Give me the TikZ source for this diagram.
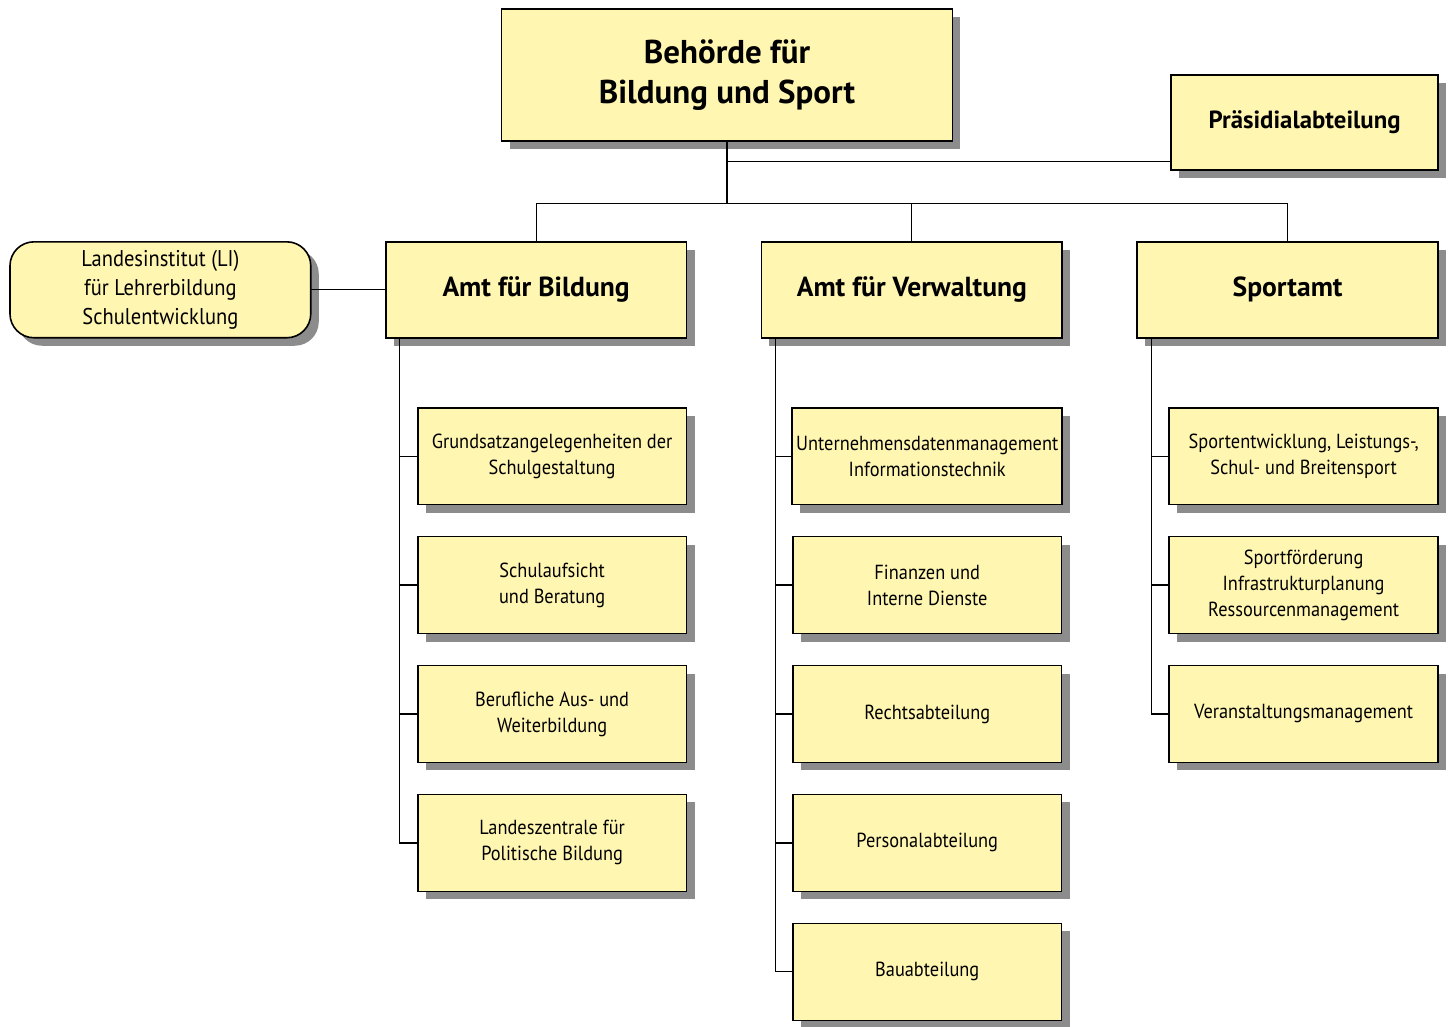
\documentclass[tikz,border=0pt]{standalone}
\usepackage{fontspec}
\setmainfont{PT Sans}[FakeStretch=0.9,BoldFeatures={FakeStretch=1.0}]
\usepackage{tikz}
\usetikzlibrary{positioning, shadows, calc}
\definecolor{boxyellow}{RGB}{255,246,178}
\definecolor{shadowgray}{RGB}{140,140,140}

\begin{document}
\begin{tikzpicture}[-,line width=0.6pt,node distance=16pt,
                    box/.style={rectangle,draw,fill=boxyellow,line width=0.8pt,align=center,inner sep=2pt,outer sep=0pt,
                      drop shadow={shadow xshift=4pt,shadow yshift=-4pt,fill=shadowgray,opacity=1}},
                    top node/.style={box,minimum width=225.5pt,minimum height=66pt,font=\fontsize{16.5}{20}\selectfont\bfseries},
                    amt node/.style={box,minimum width=150.5pt,minimum height=48pt,font=\fontsize{13.8}{16}\selectfont\bfseries},
                    praes node/.style={box,minimum width=133.5pt,minimum height=47.5pt,font=\fontsize{12.4}{14}\selectfont\bfseries},
                    li node/.style={box,rounded corners=12pt,minimum width=150.5pt,minimum height=48pt,font=\fontsize{11.4}{14.3}\selectfont},
                    sub node/.style={box,minimum width=134.5pt,minimum height=48.5pt,font=\fontsize{10.2}{13}\selectfont}]

  \node[amt node] (afb) {Amt für Bildung};
  \node[amt node] (afv) [right=37.5pt of afb] {Amt für Verwaltung};
  \node[amt node] (spa) [right=37.5pt of afv] {Sportamt};
  \node[li node] (li) [left=37.5pt of afb] {Landesinstitut (LI)\\für Lehrerbildung\\Schulentwicklung};
  \node[top node] (bsb) [above=50.5pt of afb.north, xshift=95.5pt] {Behörde für\\Bildung und Sport};
  \node[praes node] (praes) [above=36pt of spa.north east, anchor=south east] {Präsidialabteilung};

  \node[sub node] (b1) [below=35pt of afb.south east, anchor=north east] {Grundsatzangelegenheiten der\\Schulgestaltung};
  \node[sub node] (b2) [below=of b1] {Schulaufsicht\\und Beratung};
  \node[sub node] (b3) [below=of b2] {Berufliche Aus- und\\Weiterbildung};
  \node[sub node] (b4) [below=of b3] {Landeszentrale für\\Politische Bildung};

  \node[sub node] (v1) [below=35pt of afv.south east, anchor=north east] {Unternehmensdatenmanagement\\Informationstechnik};
  \node[sub node] (v2) [below=of v1] {Finanzen und\\Interne Dienste};
  \node[sub node] (v3) [below=of v2] {Rechtsabteilung};
  \node[sub node] (v4) [below=of v3] {Personalabteilung};
  \node[sub node] (v5) [below=of v4] {Bauabteilung};

  \node[sub node] (s1) [below=35pt of spa.south east, anchor=north east] {Sportentwicklung, Leistungs-,\\Schul- und Breitensport};
  \node[sub node] (s2) [below=of s1] {Sportförderung\\Infrastrukturplanung\\Ressourcenmanagement};
  \node[sub node] (s3) [below=of s2] {Veranstaltungsmanagement};

  \coordinate (bus) at ([yshift=19pt]afv.north);
  \coordinate (pj) at ([yshift=-10.5pt]bsb.south);
  \coordinate (tb) at ([xshift=7pt]afb.south west);
  \coordinate (tv) at ([xshift=7pt]afv.south west);
  \coordinate (ts) at ([xshift=7pt]spa.south west);

  \draw (bsb.south) -- (bsb.south |- bus);
  \draw (pj) -- (pj -| praes.west);
  \draw (afb.north) |- (bus) -| (spa.north);
  \draw (afv.north) -- (bus);
  \draw (li) -- (afb);

  \draw (tb) |- (b4.west);
  \draw (tv) |- (v5.west);
  \draw (ts) |- (s3.west);

  \path
    (tb |- b1) edge (b1.west)
    (tb |- b2) edge (b2.west)
    (tb |- b3) edge (b3.west)
    (tv |- v1) edge (v1.west)
    (tv |- v2) edge (v2.west)
    (tv |- v3) edge (v3.west)
    (tv |- v4) edge (v4.west)
    (ts |- s1) edge (s1.west)
    (ts |- s2) edge (s2.west);

  \useasboundingbox ([shift={(-5pt,-3pt)}]li.west |- v5.south) rectangle ([shift={(8pt,4.5pt)}]spa.east |- bsb.north);
\end{tikzpicture}
\end{document}
